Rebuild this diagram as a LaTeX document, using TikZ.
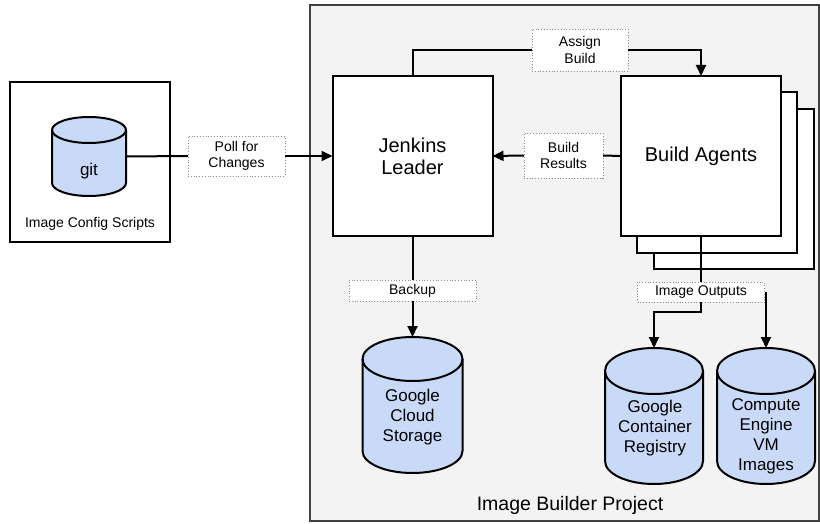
\documentclass[tikz,border=0pt]{standalone}
\usepackage{fontspec}
\setmainfont{Liberation Sans}
\usetikzlibrary{arrows.meta,positioning}
\definecolor{dbblue}{HTML}{C9DAF8}
\definecolor{projgray}{HTML}{F3F3F3}
\definecolor{lblgray}{HTML}{8A8A8A}

% cylinder drawn round a named node: name, width, cap radius
\newcommand{\drumshape}[3]{%
  \filldraw[fill=dbblue, line width=2pt, line join=round]
    ([yshift=-#3]#1.north west) -- ([yshift=#3]#1.south west)
    arc[start angle=180, end angle=360, x radius=#2/2, y radius=#3]
    -- ([yshift=-#3]#1.north east)
    arc[start angle=0, end angle=180, x radius=#2/2, y radius=#3] -- cycle;
  \draw[line width=2pt] ([yshift=-#3]#1.north west)
    arc[start angle=180, end angle=360, x radius=#2/2, y radius=#3];
}

\begin{document}
\begin{tikzpicture}[x=1pt, y=-1pt,
    box/.style={draw, line width=2pt, fill=white, minimum width=160pt,
      minimum height=160pt, inner sep=0pt, outer sep=0pt, align=center},
    drum/.style={inner sep=0pt, outer sep=0pt},
    dbtext/.style={align=center, inner sep=0pt, font=\fontsize{17}{20}\selectfont},
    lbl/.style={draw=lblgray, dotted, line width=0.8pt, fill=white,
      align=center, inner sep=0pt, outer sep=0pt,
      font=\fontsize{14}{16.5}\selectfont},
    arr/.style={-{Triangle[length=11pt,width=10pt]}, line width=2pt},
    wire/.style={line width=2pt}]
    \useasboundingbox (0,0) rectangle (820,524);

    % the project
    \node (proj) at (564.5,263) [draw=black!75, line width=1.4pt, fill=projgray,
      minimum width=509pt, minimum height=516pt, inner sep=0pt] {};
    \node (projname) at (570,505) [font=\fontsize{19.5}{22}\selectfont] {Image Builder Project};

    % config scripts
    \node (cfg) at (90,162) [draw, line width=2pt, fill=white,
      minimum width=160pt, minimum height=160pt] {};
    \node (git) at (89,156.5) [drum, minimum width=74pt, minimum height=79pt] {};
    \drumshape{git}{74pt}{13pt}
    \node (gittext) at (89,171) [dbtext] {git};
    \node (cfgname) at (90,224) [font=\fontsize{14}{16}\selectfont] {Image Config Scripts};

    \node (jenkins) at (412.5,156) [box, font=\fontsize{20}{22}\selectfont] {Jenkins\\Leader};
    \node (agent3) at (734,189) [box] {};
    \node (agent2) at (717,172.5) [box] {};
    \node (agents) at (701,156) [box, font=\fontsize{20}{24}\selectfont] {Build Agents};

    % storage
    \node (gcs) at (412.5,405) [drum, minimum width=100pt, minimum height=136pt] {};
    \drumshape{gcs}{100pt}{22pt}
    \node (gcstext) at (412.5,417) [dbtext] {Google\\Cloud\\Storage};
    \node (gcr) at (654,416) [drum, minimum width=98pt, minimum height=136pt] {};
    \drumshape{gcr}{98pt}{23pt}
    \node (gcrtext) at (655,428) [dbtext] {Google\\Container\\Registry};
    \node (ce) at (766,416) [drum, minimum width=98pt, minimum height=136pt] {};
    \drumshape{ce}{98pt}{23pt}
    \node (cetext) at (766,436) [dbtext] {Compute\\Engine\\VM\\Images};

    \node (poll) at (236.5,156) [lbl, minimum width=97pt, minimum height=40pt] {Poll for\\Changes};
    \node (asgn) at (580,50) [lbl, minimum width=96pt, minimum height=42pt] {Assign\\Build};
    \node (res) at (563.5,155.5) [lbl, minimum width=79pt, minimum height=45pt] {Build\\Results};
    \node (bkp) at (412.5,290.5) [lbl, minimum width=127pt, minimum height=21pt] {Backup};
    \node (imgout) at (701,292) [lbl, minimum width=127pt, minimum height=20pt] {Image Outputs};

    \draw[wire] (git.east) -- (poll.west);
    \draw[arr] (poll.east) -- (jenkins.west);
    \draw[wire] (jenkins.north) |- (asgn.west);
    \draw[arr] (asgn.east) -| (agents.north);
    \draw[wire] (agents.west) -- (res.east);
    \draw[arr] (res.west) -- (jenkins.east);
    \draw[wire] (jenkins.south) -- (bkp.north);
    \draw[arr] (bkp.south) -- (gcs.north);
    \draw[wire] (agents.south) -- (imgout.north);
    \draw[arr] (imgout.south) -- ++(0,10) -| (gcr.north);
    \draw[arr] (imgout.east -| ce.north) -- (ce.north);
\end{tikzpicture}
\end{document}
